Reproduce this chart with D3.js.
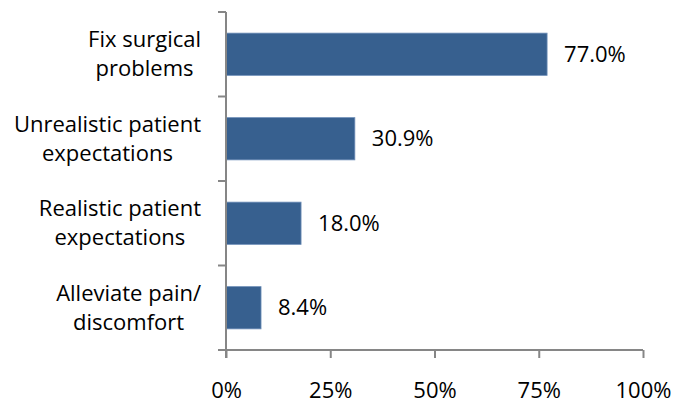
<!DOCTYPE html>
<html><head><meta charset="utf-8">
<script src="https://cdn.jsdelivr.net/npm/d3@7"></script>
<style>
html,body{margin:0;padding:0;background:#fff;}
svg text{font-family:"Open Sans",sans-serif;fill:#000;}
</style></head>
<body><svg id="c" width="685" height="405"></svg>
<script>
const categories = ["Fix surgical\nproblems", "Unrealistic patient\nexpectations", "Realistic patient\nexpectations", "Alleviate pain/\ndiscomfort"];
const values = [0.770, 0.309, 0.180, 0.084];
const valueLabels = ["77.0%", "30.9%", "18.0%", "8.4%"];
const tickValues = [0, 0.25, 0.5, 0.75, 1];
const tickLabels = ["0%", "25%", "50%", "75%", "100%"];

const svg = d3.select("#c");
const fs = 22;
const axisColor = "#868686";

const x = d3.scaleLinear().domain([0, 1]).range([226, 643]);
const y = d3.scaleBand().domain(categories).range([12, 350]).paddingInner(0.5).paddingOuter(0.25);

// bars
svg.selectAll("rect.bar").data(values).enter().append("rect")
  .attr("class", "bar")
  .attr("x", x(0))
  .attr("y", (d, i) => y(categories[i]))
  .attr("width", d => x(d) - x(0))
  .attr("height", y.bandwidth())
  .attr("fill", "#37608f")
  .attr("stroke", "#6f8fb8").attr("stroke-width", 0.8);

// value labels
svg.selectAll("text.val").data(values).enter().append("text")
  .attr("class", "val")
  .attr("x", d => x(d) + 17)
  .attr("y", (d, i) => y(categories[i]) + y.bandwidth() / 2)
  .attr("dy", "0.35em")
  .attr("font-size", fs)
  .text((d, i) => valueLabels[i]);

// x axis
const xAxis = d3.axisBottom(x).tickValues(tickValues)
  .tickFormat((d, i) => tickLabels[i]).tickSize(8).tickPadding(24);
const gx = svg.append("g").attr("transform", "translate(0,350)").call(xAxis);
gx.select(".domain").attr("stroke", axisColor).attr("stroke-width", 2).attr("d", `M${x(0)},0H${x(1)}`);
gx.selectAll(".tick line").attr("stroke", axisColor).attr("stroke-width", 2);
gx.selectAll(".tick text").attr("font-size", fs).attr("font-family", '"Open Sans",sans-serif').attr("fill", "#000");

// y axis
const step = y.step();
const y0 = y.range()[0];
svg.append("line").attr("x1", x(0)).attr("x2", x(0)).attr("y1", y0).attr("y2", y.range()[1] + 8)
  .attr("stroke", axisColor).attr("stroke-width", 2);
const bounds = d3.range(categories.length + 1).map(i => y0 + i * step);
svg.selectAll("line.yt").data(bounds).enter().append("line")
  .attr("x1", x(0) - 8).attr("x2", x(0)).attr("y1", d => d).attr("y2", d => d)
  .attr("stroke", axisColor).attr("stroke-width", 2);

// category labels: block right-aligned at 201, lines centered within block
const lineGap = 29;
categories.forEach((c, i) => {
  const lines = c.split("\n");
  const cy = y(c) + y.bandwidth() / 2;
  const g = svg.append("g");
  const texts = lines.map((l, j) => g.append("text")
    .attr("font-size", fs)
    .attr("text-anchor", "middle")
    .attr("y", cy + (j - (lines.length - 1) / 2) * lineGap)
    .attr("dy", "0.35em")
    .text(l));
  const w = d3.max(texts, t => t.node().getComputedTextLength());
  texts.forEach(t => t.attr("x", 201 - w / 2));
});
</script></body></html>
